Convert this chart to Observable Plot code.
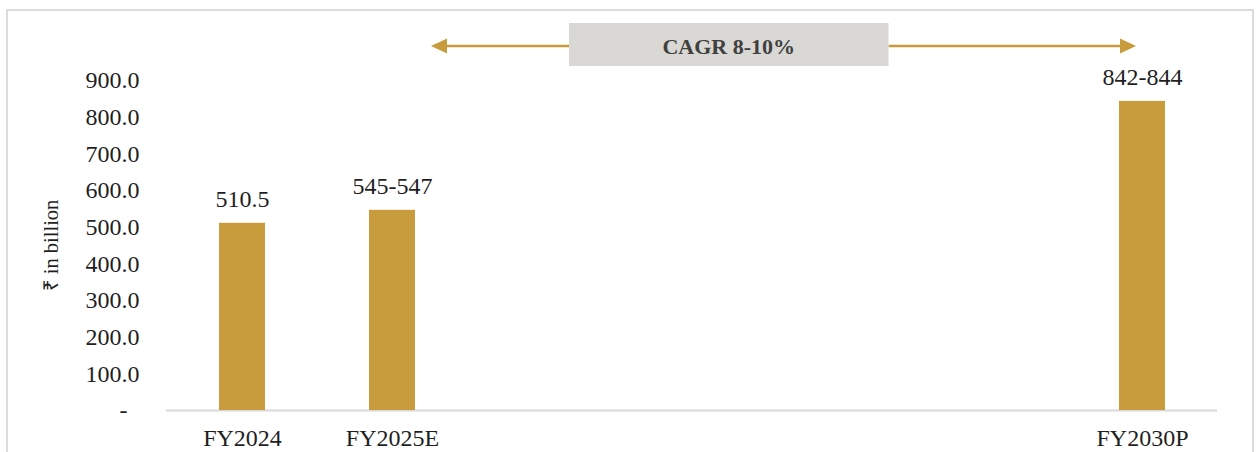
<!DOCTYPE html>
<html><head><meta charset="utf-8">
<script src="https://cdn.jsdelivr.net/npm/d3@7"></script>
<script src="https://cdn.jsdelivr.net/npm/@observablehq/plot@0.6"></script>
<style>
body{margin:0;background:#fff;}
#wrap{position:relative;width:1257px;height:452px;overflow:hidden;}
#frame{position:absolute;left:6px;top:9px;width:1248px;height:470px;border:2px solid #dcdcdc;box-sizing:border-box;}
#chart{position:absolute;left:0;top:0;}
</style></head><body>
<div id="wrap"><div id="frame"></div><div id="chart"></div></div>
<script>
const categories = ["FY2024","FY2025E","FY2026P","FY2027P","FY2028P","FY2029P","FY2030P"];
const barCategories = ["FY2024","FY2025E","FY2030P"];
const barValues = [510.5, 546, 843];
const barLabels = ["510.5","545-547","842-844"];
const xTickLabels = ["FY2024","FY2025E","FY2030P"];
const yTicks = [0,100,200,300,400,500,600,700,800,900];
const yAxisTitle = "₹ in billion";
const cagrText = "CAGR 8-10%";
const cagrFrom = "FY2025E";
const cagrTo = "FY2030P";

const gold = "#C89B3C";
const font = "'Liberation Serif','Times New Roman',serif";
const data = barCategories.map((c,i)=>({cat:c, value:barValues[i], label:barLabels[i]}));

const plot = Plot.plot({
  width:1257, height:452,
  marginLeft:166, marginRight:40, marginTop:80, marginBottom:42,
  style:{fontFamily:font, fontSize:"24px", color:"#1f1f1f", background:"transparent", overflow:"visible"},
  x:{domain:categories, padding:0, label:null},
  y:{domain:[0,900], label:null},
  marks:[
    Plot.ruleY([0], {stroke:"#d9d9d9", strokeWidth:2}),
    Plot.barY(data, {x:"cat", y:"value", fill:gold, insetLeft:52, insetRight:52}),
    Plot.text(data, {x:"cat", y:"value", text:"label", dy:-16, lineAnchor:"bottom", fontSize:24, fill:"#1f1f1f"}),
    Plot.axisX({ticks:xTickLabels, tickSize:0, tickPadding:18, fontSize:24, label:null}),
    Plot.axisY({ticks:yTicks, tickSize:0, tickPadding:27, fontSize:24, label:null,
      tickFormat:d => d === 0 ? "-\u00a0\u00a0" : d.toFixed(1)}),
    Plot.text([yAxisTitle], {frameAnchor:"left", text:d=>d, rotate:-90, dx:-115, fontSize:20.5, textAnchor:"middle", lineAnchor:"middle", fill:"#1f1f1f"})
  ]
});
document.getElementById("chart").appendChild(plot);

// CAGR annotation positioned through the plot's own scales
const xs = plot.scale("x"), ys = plot.scale("y");
const step = xs.step || xs.bandwidth;
const cx = c => xs.apply(c) + xs.bandwidth/2;
const ay = ys.apply(900) - 34;
const left = cx(cagrFrom) + 0.26*step;
const right = cx(cagrTo) - 0.04*step;
const boxL = cx(cagrFrom) + 1.18*step, boxR = cx(cagrFrom) + 3.31*step;
const svg = d3.select(plot);
const g = svg.append("g");
g.append("line").attr("x1", left+14).attr("x2", boxL).attr("y1", ay).attr("y2", ay).attr("stroke", gold).attr("stroke-width", 2.5);
g.append("line").attr("x1", boxR).attr("x2", right-14).attr("y1", ay).attr("y2", ay).attr("stroke", gold).attr("stroke-width", 2.5);
g.append("path").attr("d", `M${left},${ay}L${left+16},${ay-7.5}L${left+16},${ay+7.5}Z`).attr("fill", gold);
g.append("path").attr("d", `M${right},${ay}L${right-16},${ay-7.5}L${right-16},${ay+7.5}Z`).attr("fill", gold);
g.append("rect").attr("x", boxL).attr("y", ay-23).attr("width", boxR-boxL).attr("height", 43).attr("fill", "#D9D8D4");
g.append("text").attr("x", (boxL+boxR)/2).attr("y", ay).attr("dy", "0.35em").attr("text-anchor", "middle")
  .attr("font-family", font).attr("font-weight", "bold").attr("font-size", 22).attr("fill", "#404040").text(cagrText);
</script>
</body></html>
